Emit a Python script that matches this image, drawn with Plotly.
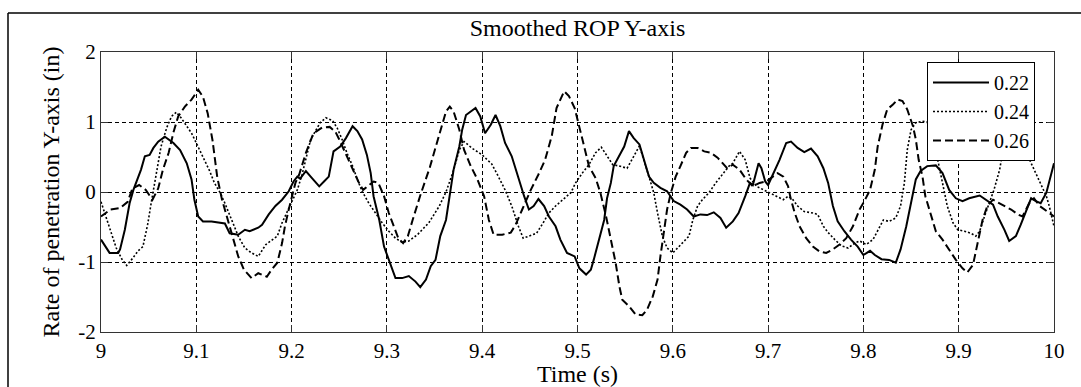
import plotly.graph_objects as go

# ---------------- data ----------------
x_tick_vals = [9.0, 9.1, 9.2, 9.3, 9.4, 9.5, 9.6, 9.7, 9.8, 9.9, 10.0]
x_tick_text = ["9", "9.1", "9.2", "9.3", "9.4", "9.5", "9.6", "9.7", "9.8", "9.9", "10"]
y_tick_vals = [-2, -1, 0, 1, 2]
y_tick_text = ["-2", "-1", "0", "1", "2"]
series_names = ["0.22", "0.24", "0.26"]

t_022 = [9.000, 9.009, 9.018, 9.020, 9.025, 9.030, 9.034, 9.037, 9.042, 9.046,
         9.051, 9.055, 9.060, 9.067, 9.076, 9.083, 9.090, 9.095, 9.098, 9.102,
         9.107, 9.116, 9.123, 9.130, 9.135, 9.144, 9.151, 9.156, 9.165, 9.169,
         9.176, 9.183, 9.190, 9.197, 9.202, 9.206, 9.209, 9.215, 9.220, 9.225,
         9.229, 9.234, 9.239, 9.244, 9.251, 9.257, 9.264, 9.269, 9.274, 9.279,
         9.283, 9.286, 9.292, 9.297, 9.302, 9.309, 9.316, 9.323, 9.330, 9.335,
         9.341, 9.346, 9.351, 9.356, 9.362, 9.367, 9.370, 9.376, 9.379, 9.383,
         9.388, 9.393, 9.398, 9.403, 9.409, 9.414, 9.419, 9.424, 9.431, 9.438,
         9.444, 9.449, 9.454, 9.459, 9.465, 9.470, 9.477, 9.482, 9.489, 9.497,
         9.502, 9.509, 9.514, 9.517, 9.523, 9.528, 9.531, 9.535, 9.538, 9.544,
         9.549, 9.554, 9.559, 9.565, 9.570, 9.575, 9.580, 9.587, 9.594, 9.601,
         9.608, 9.615, 9.622, 9.629, 9.636, 9.643, 9.650, 9.656, 9.663, 9.669,
         9.676, 9.681, 9.684, 9.690, 9.693, 9.697, 9.700, 9.705, 9.712, 9.719,
         9.724, 9.731, 9.738, 9.745, 9.752, 9.758, 9.763, 9.768, 9.773, 9.780,
         9.787, 9.794, 9.800, 9.807, 9.812, 9.819, 9.827, 9.834, 9.839, 9.845,
         9.850, 9.855, 9.860, 9.867, 9.876, 9.883, 9.890, 9.897, 9.904, 9.911,
         9.922, 9.929, 9.936, 9.941, 9.948, 9.953, 9.960, 9.965, 9.971, 9.976,
         9.981, 9.986, 9.992, 9.997, 10.000]
rop_022 = [-0.68, -0.87, -0.87, -0.82, -0.54, -0.16, 0.03, 0.13, 0.32, 0.51,
           0.53, 0.63, 0.72, 0.79, 0.70, 0.60, 0.41, 0.18, -0.11, -0.35,
           -0.42, -0.42, -0.44, -0.45, -0.59, -0.61, -0.54, -0.56, -0.51, -0.47,
           -0.32, -0.20, -0.11, 0.01, 0.15, 0.22, 0.19, 0.30, 0.22, 0.15,
           0.08, 0.15, 0.22, 0.58, 0.65, 0.77, 0.94, 0.87, 0.75, 0.53,
           0.27, -0.06, -0.40, -0.78, -0.97, -1.23, -1.23, -1.20, -1.28, -1.36,
           -1.25, -1.06, -0.97, -0.63, -0.40, 0.03, 0.32, 0.65, 0.89, 1.10,
           1.15, 1.20, 1.08, 0.84, 0.96, 1.10, 0.94, 0.70, 0.51, 0.20,
           -0.06, -0.25, -0.20, -0.10, -0.20, -0.35, -0.49, -0.68, -0.87, -0.92,
           -1.09, -1.18, -1.11, -0.97, -0.68, -0.40, -0.09, 0.13, 0.37, 0.53,
           0.65, 0.87, 0.77, 0.68, 0.46, 0.22, 0.13, 0.06, 0.01, -0.13,
           -0.18, -0.25, -0.35, -0.32, -0.33, -0.29, -0.37, -0.51, -0.42, -0.30,
           -0.06, 0.13, 0.10, 0.41, 0.34, 0.15, 0.10, 0.25, 0.46, 0.70,
           0.72, 0.63, 0.57, 0.62, 0.51, 0.34, 0.13, -0.20, -0.42, -0.56,
           -0.68, -0.78, -0.90, -0.84, -0.90, -0.96, -0.97, -1.01, -0.82, -0.49,
           -0.16, 0.18, 0.30, 0.37, 0.38, 0.27, 0.03, -0.09, -0.13, -0.09,
           -0.05, -0.11, -0.18, -0.35, -0.54, -0.70, -0.63, -0.47, -0.25, -0.09,
           -0.13, -0.16, -0.01, 0.27, 0.41]

t_024 = [9.000, 9.005, 9.010, 9.016, 9.022, 9.027, 9.033, 9.039, 9.044, 9.049,
         9.053, 9.056, 9.060, 9.063, 9.069, 9.074, 9.079, 9.084, 9.090, 9.095,
         9.100, 9.107, 9.114, 9.119, 9.125, 9.130, 9.137, 9.144, 9.151, 9.158,
         9.165, 9.173, 9.180, 9.185, 9.190, 9.195, 9.201, 9.206, 9.211, 9.216,
         9.220, 9.225, 9.230, 9.236, 9.243, 9.248, 9.253, 9.258, 9.264, 9.269,
         9.274, 9.281, 9.288, 9.295, 9.302, 9.309, 9.316, 9.323, 9.332, 9.344,
         9.355, 9.362, 9.369, 9.376, 9.381, 9.390, 9.400, 9.410, 9.417, 9.424,
         9.431, 9.438, 9.443, 9.450, 9.457, 9.464, 9.470, 9.477, 9.485, 9.493,
         9.498, 9.505, 9.512, 9.519, 9.525, 9.531, 9.537, 9.544, 9.552, 9.559,
         9.565, 9.575, 9.580, 9.584, 9.589, 9.594, 9.600, 9.605, 9.612, 9.617,
         9.621, 9.626, 9.631, 9.638, 9.645, 9.652, 9.659, 9.663, 9.670, 9.676,
         9.681, 9.688, 9.695, 9.702, 9.709, 9.716, 9.721, 9.726, 9.731, 9.738,
         9.747, 9.752, 9.758, 9.763, 9.770, 9.777, 9.784, 9.791, 9.796, 9.803,
         9.810, 9.815, 9.821, 9.827, 9.834, 9.839, 9.843, 9.846, 9.850, 9.855,
         9.862, 9.867, 9.873, 9.878, 9.883, 9.888, 9.894, 9.899, 9.906, 9.913,
         9.918, 9.922, 9.927, 9.932, 9.937, 9.943, 9.946, 9.955, 9.963, 9.971,
         9.976, 9.981, 9.986, 9.992, 9.995, 10.000]
rop_024 = [-0.14, -0.35, -0.58, -0.80, -0.96, -1.05, -0.95, -0.84, -0.78, -0.46,
           -0.13, 0.10, 0.40, 0.65, 0.92, 1.08, 1.14, 1.06, 0.94, 0.84,
           0.70, 0.51, 0.30, 0.13, -0.01, -0.16, -0.40, -0.63, -0.80, -0.87,
           -0.92, -0.75, -0.68, -0.63, -0.44, -0.30, -0.11, 0.03, 0.25, 0.51,
           0.75, 0.87, 0.99, 1.06, 1.02, 0.91, 0.75, 0.56, 0.37, 0.18,
           0.01, -0.16, -0.30, -0.44, -0.56, -0.66, -0.72, -0.70, -0.61, -0.44,
           -0.20, 0.00, 0.27, 0.60, 0.72, 0.62, 0.53, 0.40, 0.22, 0.03,
           -0.20, -0.49, -0.66, -0.63, -0.59, -0.44, -0.30, -0.20, -0.11, -0.01,
           0.13, 0.27, 0.39, 0.56, 0.64, 0.51, 0.39, 0.37, 0.34, 0.51,
           0.66, 0.22, -0.01, -0.30, -0.63, -0.80, -0.87, -0.80, -0.70, -0.63,
           -0.40, -0.20, -0.11, -0.01, 0.13, 0.25, 0.37, 0.41, 0.58, 0.46,
           0.20, 0.08, 0.03, -0.01, -0.06, -0.11, -0.06, -0.11, -0.20, -0.28,
           -0.30, -0.32, -0.49, -0.58, -0.68, -0.77, -0.80, -0.73, -0.70, -0.75,
           -0.68, -0.56, -0.40, -0.42, -0.37, -0.20, 0.13, 0.60, 0.89, 0.99,
           1.01, 1.00, 0.75, 0.46, 0.13, -0.20, -0.44, -0.54, -0.56, -0.59,
           -0.63, -0.56, -0.35, -0.16, 0.03, 0.32, 0.56, 0.95, 0.93, 0.56,
           0.41, 0.27, 0.13, -0.06, -0.20, -0.49]

t_026 = [9.000, 9.010, 9.020, 9.028, 9.033, 9.040, 9.047, 9.054, 9.060, 9.065,
         9.071, 9.076, 9.081, 9.088, 9.095, 9.102, 9.107, 9.112, 9.117, 9.122,
         9.127, 9.133, 9.138, 9.144, 9.150, 9.158, 9.165, 9.174, 9.179, 9.185,
         9.190, 9.193, 9.197, 9.201, 9.204, 9.208, 9.211, 9.215, 9.223, 9.232,
         9.240, 9.246, 9.250, 9.255, 9.260, 9.265, 9.270, 9.275, 9.281, 9.286,
         9.291, 9.297, 9.302, 9.307, 9.312, 9.317, 9.322, 9.327, 9.335, 9.345,
         9.355, 9.362, 9.366, 9.370, 9.376, 9.381, 9.388, 9.395, 9.402, 9.407,
         9.412, 9.421, 9.430, 9.435, 9.442, 9.451, 9.459, 9.466, 9.473, 9.478,
         9.486, 9.491, 9.497, 9.502, 9.507, 9.512, 9.519, 9.524, 9.530, 9.535,
         9.540, 9.544, 9.547, 9.554, 9.561, 9.568, 9.573, 9.579, 9.584, 9.587,
         9.591, 9.594, 9.598, 9.603, 9.608, 9.614, 9.619, 9.626, 9.633, 9.640,
         9.647, 9.652, 9.657, 9.663, 9.670, 9.677, 9.684, 9.691, 9.698, 9.705,
         9.710, 9.716, 9.721, 9.724, 9.728, 9.733, 9.740, 9.747, 9.754, 9.761,
         9.768, 9.775, 9.782, 9.789, 9.796, 9.801, 9.807, 9.812, 9.815, 9.820,
         9.825, 9.831, 9.836, 9.841, 9.846, 9.852, 9.855, 9.858, 9.862, 9.865,
         9.871, 9.876, 9.883, 9.890, 9.897, 9.904, 9.909, 9.915, 9.920, 9.925,
         9.930, 9.936, 9.941, 9.948, 9.955, 9.962, 9.967, 9.974, 9.979, 9.985,
         9.990, 9.995, 10.000]
rop_026 = [-0.35, -0.25, -0.23, -0.14, 0.05, 0.10, 0.03, -0.11, 0.05, 0.32,
           0.56, 0.85, 1.08, 1.22, 1.32, 1.46, 1.36, 1.12, 0.74, 0.21,
           -0.11, -0.40, -0.64, -0.92, -1.11, -1.23, -1.16, -1.21, -1.11, -1.01,
           -0.73, -0.49, -0.25, -0.01, 0.13, 0.25, 0.37, 0.56, 0.84, 0.92,
           0.93, 0.86, 0.75, 0.60, 0.46, 0.32, 0.15, 0.03, 0.10, 0.15,
           0.13, -0.06, -0.30, -0.49, -0.66, -0.73, -0.63, -0.40, -0.05, 0.35,
           0.80, 1.15, 1.22, 1.15, 0.89, 0.60, 0.37, 0.18, -0.06, -0.40,
           -0.61, -0.61, -0.58, -0.47, -0.25, 0.03, 0.25, 0.46, 0.80, 1.20,
           1.44, 1.37, 1.20, 0.94, 0.65, 0.37, 0.20, -0.01, -0.35, -0.68,
           -1.01, -1.35, -1.54, -1.63, -1.75, -1.76, -1.68, -1.49, -1.25, -0.92,
           -0.54, -0.25, -0.01, 0.22, 0.37, 0.56, 0.63, 0.63, 0.58, 0.56,
           0.49, 0.41, 0.34, 0.39, 0.32, 0.18, 0.08, 0.13, 0.15, 0.22,
           0.27, 0.22, 0.08, -0.11, -0.30, -0.49, -0.66, -0.78, -0.85, -0.87,
           -0.82, -0.75, -0.66, -0.49, -0.25, -0.13, 0.03, 0.32, 0.65, 0.96,
           1.18, 1.25, 1.32, 1.30, 1.18, 0.94, 0.75, 0.46, 0.22, -0.06,
           -0.35, -0.56, -0.68, -0.82, -0.97, -1.09, -1.15, -1.04, -0.74, -0.40,
           -0.20, -0.11, -0.15, -0.20, -0.25, -0.32, -0.35, -0.16, -0.09, -0.20,
           -0.25, -0.30, -0.35]

assert len(t_022) == len(rop_022), (len(t_022), len(rop_022))
assert len(t_024) == len(rop_024), (len(t_024), len(rop_024))
assert len(t_026) == len(rop_026), (len(t_026), len(rop_026))

# ---------------- figure ----------------
FONT = "Liberation Serif, Times New Roman, serif"
W, H = 1081, 387
ML, MR, MT, MB = 101, 27, 52, 55
PW, PH = W - ML - MR, H - MT - MB

def px_x(px):
    return (px - ML) / PW

def px_y(py):
    return 1 - (py - MT) / PH

fig = go.Figure()
fig.add_trace(go.Scatter(x=t_022, y=rop_022, name=series_names[0], mode="lines",
                         line=dict(color="black", width=2, dash="solid")))
fig.add_trace(go.Scatter(x=t_024, y=rop_024, name=series_names[1], mode="lines",
                         line=dict(color="black", width=1.6, dash="2px,2px")))
fig.add_trace(go.Scatter(x=t_026, y=rop_026, name=series_names[2], mode="lines",
                         line=dict(color="black", width=2, dash="8px,4px")))

axis_common = dict(
    showline=True, linecolor="#333333", linewidth=1, mirror="ticks",
    ticks="inside", ticklen=7, tickcolor="#333333", tickwidth=1,
    showgrid=True, gridcolor="black", gridwidth=1, griddash="4px,3px",
    zeroline=False, tickfont=dict(family=FONT, size=21, color="black"),
)

fig.update_xaxes(range=[9, 10], tickvals=x_tick_vals, ticktext=x_tick_text,
                 title=dict(text="Time (s)", font=dict(family=FONT, size=24, color="black"),
                            standoff=0),
                 **axis_common)
fig.update_yaxes(range=[-2, 2], tickvals=y_tick_vals, ticktext=y_tick_text,
                 title=dict(text="Rate of penetration Y-axis (in)",
                            font=dict(family=FONT, size=24, color="black"), standoff=11),
                 **axis_common)

fig.update_layout(
    width=W, height=H,
    margin=dict(l=ML, r=MR, t=MT, b=MB, autoexpand=False),
    paper_bgcolor="white", plot_bgcolor="white",
    title=dict(text="Smoothed ROP Y-axis", font=dict(family=FONT, size=24, color="black"),
               x=px_x((ML + W - MR) / 2), xanchor="center", xref="paper",
               y=1 - 28 / H, yref="container", yanchor="middle"),
    legend=dict(x=px_x(927), y=px_y(62), xanchor="left", yanchor="top",
                bgcolor="white", bordercolor="black", borderwidth=1,
                font=dict(family=FONT, size=20, color="black"),
                itemwidth=56, tracegroupgap=0),
    showlegend=True,
    shapes=[
        dict(type="line", xref="paper", yref="paper", x0=px_x(8), x1=px_x(8),
             y0=px_y(13), y1=px_y(400), line=dict(color="black", width=1.5)),
        dict(type="line", xref="paper", yref="paper", x0=px_x(8), x1=px_x(1100),
             y0=px_y(13), y1=px_y(13), line=dict(color="black", width=1.5)),
    ],
)

fig.write_html("out.html")
